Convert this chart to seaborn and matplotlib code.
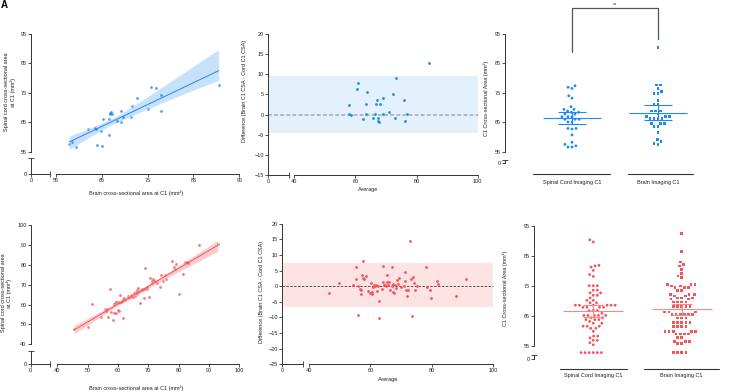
import matplotlib.pyplot as plt
import numpy as np
import seaborn as sns
from matplotlib.collections import PathCollection

W, H = 752, 392

BLUE = "#2088f2"
BLUE_LOA = "#e3f1fd"
RED = "#f5545b"
RED_LOA = "#fde3e3"
RED_MEAN = "#f58a8e"
AXIS = "#333333"

GROUPS = ["Spinal Cord Imaging C1", "Brain Imaging C1"]

# top row: scatter brain vs cord
BRAIN_TOP = [57.9, 58.4, 59.4, 61.9, 63.5, 63.7, 64.8, 65.3, 66.5, 66.5, 64.0, 65.1, 66.8, 67.0,
             67.2, 66.8, 68.3, 69.1, 69.2, 69.6, 71.3, 71.5, 72.7, 75.0, 75.7, 76.9, 78.0, 78.0, 90.5]
CORD_TOP = [57.6, 58.2, 56.7, 62.8, 63.0, 62.7, 62.0, 66.1, 66.1, 60.8, 57.3, 56.8, 68.1, 68.6,
            67.8, 67.8, 65.5, 65.2, 68.8, 66.8, 66.8, 70.5, 73.4, 69.5, 76.9, 76.6, 74.1, 68.7, 77.7]

# top row: Bland-Altman
AVG_TOP = [58.0, 57.8, 58.4, 60.6, 60.9, 62.5, 63.3, 63.5, 63.7, 65.6, 66.3, 66.8, 67.2, 67.3,
           67.5, 67.8, 68.1, 69.0, 69.1, 71.0, 72.3, 73.1, 73.3, 75.9, 76.2, 76.8, 84.1]
DIFF_TOP = [2.4, 0.1, -0.2, 6.4, 7.9, -1.1, 0.2, 2.6, 5.5, -0.9, 0.1, 2.7, 3.6, -1.6,
            -0.8, -1.8, 2.6, 0.2, 4.1, 0.7, 5.2, -0.9, 9.0, 3.6, -1.5, 0.1, 12.7]
LOA_TOP = (-4.6, 9.5)

# top row: column scatter
CORD_COL_TOP = [77.4, 76.9, 76.5, 74.0, 73.2, 70.3, 69.4, 68.4, 68.8, 69.4, 67.8, 67.8, 68.4, 66.9,
                66.9, 66.9, 66.0, 66.0, 66.0, 65.1, 65.1, 62.9, 62.9, 62.7, 60.7, 58.2, 57.5, 56.6,
                56.6, 57.0]
BRAIN_COL_TOP = [90.4, 77.7, 77.7, 76.5, 74.7, 74.7, 75.4, 72.5, 71.1, 71.1, 68.8, 68.8, 68.8, 67.8,
                 66.9, 66.9, 66.2, 66.2, 66.2, 66.2, 66.9, 64.6, 64.6, 64.6, 63.5, 63.5, 61.6, 59.2,
                 58.4, 57.5, 57.8]

# bottom row: scatter brain vs cord
BRAIN_BOT = [45.5, 50.1, 51.4, 54.4, 55.8, 55.9, 56.3, 56.6, 57.4, 57.7, 58.5, 58.8, 59.0, 59.3,
             59.7, 58.8, 59.2, 59.9, 60.2, 60.4, 60.6, 61.0, 61.3, 61.7, 61.8, 62.1, 62.4, 63.2,
             63.6, 64.3, 64.6, 65.0, 65.3, 65.6, 65.9, 66.3, 66.4, 66.6, 66.9, 67.4, 67.7, 67.9,
             68.1, 68.5, 68.9, 69.0, 69.6, 69.7, 70.2, 70.6, 71.1, 71.3, 71.6, 71.9, 72.2, 72.8,
             73.7, 74.3, 75.0, 75.4, 75.8, 77.8, 78.5, 78.8, 79.1, 80.2, 81.6, 82.2, 82.8, 83.1,
             86.6, 92.9]
CORD_BOT = [47.7, 48.9, 60.3, 53.9, 57.9, 56.9, 57.6, 53.9, 67.7, 56.1, 52.2, 60.1, 60.9, 61.3,
            61.5, 55.6, 55.6, 57.3, 61.5, 56.8, 65.0, 61.5, 62.0, 53.2, 63.0, 63.3, 62.3, 64.3,
            63.3, 64.8, 64.0, 63.6, 66.0, 64.3, 66.3, 67.3, 65.3, 68.5, 66.3, 60.8, 67.3, 68.0,
            67.3, 63.5, 78.2, 67.8, 68.7, 68.0, 63.6, 73.5, 72.0, 70.7, 72.7, 71.7, 71.9, 71.0,
            69.0, 75.0, 71.7, 74.9, 72.7, 82.1, 78.9, 77.7, 80.4, 65.3, 75.4, 81.4, 81.2, 81.1,
            89.8, 90.5]

# bottom row: Bland-Altman
AVG_BOT = [46.6, 49.7, 54.2, 55.3, 55.4, 55.9, 56.1, 56.5, 56.9, 57.0, 57.4, 57.5, 57.6, 57.8,
           58.7, 59.3, 59.8, 60.1, 60.4, 60.6, 60.9, 61.2, 61.5, 61.8, 62.1, 62.5, 62.7, 62.8,
           63.8, 64.0, 64.2, 64.5, 64.8, 65.1, 65.4, 65.5, 65.7, 65.9, 66.4, 66.9, 66.9, 67.2,
           67.4, 67.7, 67.9, 68.2, 68.5, 69.0, 69.3, 69.8, 70.9, 71.1, 71.2, 71.5, 72.0, 72.3,
           72.8, 73.1, 73.4, 73.8, 74.1, 74.4, 75.0, 78.1, 78.5, 79.4, 79.8, 81.8, 81.9, 87.8,
           91.2]
DIFF_BOT = [-2.1, 1.0, 0.3, 6.0, 2.3, -9.1, 0.2, -1.0, -2.5, -1.3, 3.6, 2.5, 8.0, 2.3,
            3.3, -1.4, -2.1, 0.9, -2.6, -1.9, -0.4, 0.4, 0.2, 0.5, -1.6, 0.1, -10.1, -4.7,
            -1.0, 6.5, 1.3, 0.5, 0.4, 0.1, 1.4, 3.6, 0.5, 1.2, -1.2, 6.3, 0.1, -1.9,
            0.6, -2.2, 0.4, -0.5, 1.9, 0.6, 2.7, -0.1, 0.1, 1.6, 4.7, -1.1, -3.0, -1.1,
            14.6, 2.3, -9.4, 3.1, 1.0, -1.1, 0.0, 6.0, -0.3, -1.3, -3.9, 1.7, 0.6, -3.2,
            2.3]
LOA_BOT = (-6.6, 7.5)

# bottom row: column scatter
CORD_COL_BOT = [90.4, 89.7, 81.9, 81.7, 81.3, 80.2, 78.8, 78.2, 75.1, 75.1, 75.1, 73.6, 73.6, 72.7,
                72.7, 71.9, 71.9, 71.0, 70.2, 70.2, 69.4, 69.4, 68.6, 68.6, 68.6, 68.6, 68.6, 68.6,
                67.9, 67.9, 67.9, 67.9, 66.8, 66.8, 66.8, 65.9, 65.2, 65.2, 65.2, 65.2, 65.2, 64.4,
                64.4, 63.8, 63.8, 63.8, 63.2, 62.6, 62.6, 61.6, 61.6, 61.6, 60.9, 60.9, 59.9, 58.3,
                58.3, 57.7, 56.9, 56.9, 56.1, 55.4, 52.8, 52.8, 52.8, 52.8, 52.8, 52.8]
BRAIN_COL_BOT = [92.6, 86.4, 83.0, 82.1, 81.7, 80.6, 79.2, 78.3, 77.9, 75.6, 75.6, 75.6, 75.0, 75.0,
                 74.6, 74.6, 74.6, 73.6, 73.6, 72.1, 72.1, 72.1, 71.7, 71.7, 71.0, 71.0, 71.0, 70.7,
                 70.7, 69.7, 69.7, 69.7, 69.7, 68.1, 68.1, 68.1, 68.1, 68.1, 66.3, 66.3, 66.3, 65.5,
                 65.5, 65.5, 65.5, 65.5, 65.5, 64.3, 64.3, 64.3, 62.8, 62.8, 62.8, 62.8, 62.8, 61.4,
                 61.4, 61.4, 61.4, 59.9, 59.9, 59.9, 59.9, 59.9, 59.0, 59.0, 59.0, 59.0, 57.8, 57.8,
                 56.6, 56.6, 56.6, 55.9, 55.9, 52.8, 52.8, 52.8, 52.8]


def px_rect(x0, x1, y0, y1):
    return [x0 / W, 1 - y1 / H, (x1 - x0) / W, (y1 - y0) / H]


def pt(px):
    return px * 72 / 100


def base_style(ax):
    ax.patch.set_visible(False)
    ax.tick_params(which="both", length=2, width=0.6, color=AXIS, labelsize=4,
                   pad=1, labelcolor="#222222")
    for side in ("top", "right"):
        ax.spines[side].set_visible(False)
    for side in ("left", "bottom"):
        ax.spines[side].set_linewidth(0.7)
        ax.spines[side].set_color(AXIS)


def setup_main(ax, xlim, ylim, xticks, yticks, left_px, bottom_px, xb, yb):
    ax.set_xlim(xlim)
    ax.set_ylim(ylim)
    ax.set_xticks(xticks)
    ax.set_yticks(yticks)
    ax.set_xlabel("")
    ax.set_ylabel("")
    base_style(ax)
    ax.spines["left"].set_position(("outward", pt(left_px)))
    ax.spines["bottom"].set_position(("outward", pt(bottom_px)))
    ax.spines["left"].set_bounds(*yb)
    if xb is not None:
        ax.spines["bottom"].set_bounds(*xb)


def add_stub(fig, rect, x_part, y_part):
    st = fig.add_axes(px_rect(*rect))
    st.set_xlim(0, 1)
    st.set_ylim(0, 1)
    base_style(st)
    st.spines["bottom"].set_visible(x_part)
    st.spines["left"].set_visible(y_part)
    if x_part:
        st.set_xticks([0], ["0"])
        st.set_xticks([1], minor=True)
    else:
        st.set_xticks([])
    if y_part:
        st.set_yticks([0], ["0"])
        st.set_yticks([1], minor=True)
    else:
        st.set_yticks([])
    st.tick_params(which="minor", direction="inout", length=5)
    return st


def soften_band(ax, alpha):
    for c in ax.collections:
        if not isinstance(c, PathCollection):
            c.set_alpha(alpha)


def scatter_panel(fig, rect, x, y, color, band_alpha, lims, ticks, left_px, bottom_px, stub):
    ax = fig.add_axes(px_rect(*rect))
    sns.regplot(x=x, y=y, ax=ax, color=color, ci=95, seed=3,
                scatter_kws={"s": 4, "linewidths": 0}, line_kws={"lw": 0.7})
    soften_band(ax, band_alpha)
    setup_main(ax, lims, lims, ticks, ticks, left_px, bottom_px, lims, lims)
    add_stub(fig, stub, True, True)
    return ax


def ba_panel(fig, rect, avg, diff, color, band_color, loa, ylim, yticks, left_px, stub,
             zero_color, zero_lw):
    ax = fig.add_axes(px_rect(*rect))
    frac = left_px / (rect[1] - rect[0])
    ax.axhspan(loa[0], loa[1], xmin=-frac, xmax=1, color=band_color, lw=0, zorder=0,
               clip_on=False)
    ax.axhline(0, xmin=-frac, xmax=1, color=zero_color, lw=zero_lw, ls=(0, (2.5, 1.5)),
               clip_on=False, zorder=1)
    sns.scatterplot(x=avg, y=diff, ax=ax, color=color, s=4, linewidth=0, zorder=3)
    setup_main(ax, (40, 100), ylim, [40, 60, 80, 100], yticks, left_px, 0, (40, 100), ylim)
    add_stub(fig, stub, True, False)
    return ax


def column_panel(fig, rect, g1, g2, color, mean_color, ylim, left_px, line_px, segs,
                 label_pad, cap, stub):
    ax = fig.add_axes(px_rect(*rect))
    sns.swarmplot(x=[GROUPS[0]] * len(g1), y=g1, order=GROUPS, color=color, marker="o",
                  size=2.0, linewidth=0.8, edgecolor="none", ax=ax)
    sns.swarmplot(x=[GROUPS[1]] * len(g2), y=g2, order=GROUPS, color=color, marker="s",
                  size=1.9, linewidth=0.9, edgecolor="none", ax=ax)
    for i, vals in enumerate([g1, g2]):
        v = np.asarray(vals)
        m = v.mean()
        ci = 1.96 * v.std(ddof=1) / np.sqrt(len(v))
        ax.hlines(m, i - 0.34, i + 0.34, color=mean_color, lw=0.8, zorder=5)
        ax.errorbar(i, m, yerr=ci, color=mean_color, lw=0.8, capsize=cap, capthick=0.8,
                    zorder=5)
    setup_main(ax, (-0.5, 1.5), ylim, [0, 1], range(55, 96, 10), left_px, line_px, None,
               (55, 95))
    ax.spines["bottom"].set_visible(False)
    ax.set_xticks([0, 1], GROUPS)
    ax.tick_params(axis="x", length=0, pad=label_pad)
    yfrac = -line_px / (rect[3] - rect[2])
    for a, b in segs:
        ax.plot([a, b], [yfrac, yfrac], color=AXIS, lw=0.8, clip_on=False,
                transform=ax.get_xaxis_transform())
    add_stub(fig, stub, False, True)
    return ax


sns.set_style("ticks")
plt.rcParams["font.family"] = ["Liberation Sans", "DejaVu Sans"]

fig = plt.figure(figsize=(W / 100, H / 100), dpi=100)

# ---- top row ----
scatter_panel(fig, (56, 239.3, 34, 151.7), BRAIN_TOP, CORD_TOP, BLUE, 0.25, (55, 95),
              range(55, 96, 10), 25, 22.3, (31, 50, 158, 174))
ba_panel(fig, (294.3, 477.7, 34, 175), AVG_TOP, DIFF_TOP, BLUE, BLUE_LOA, LOA_TOP, (-15, 20),
         range(-15, 21, 5), 26, (268.3, 289, 174, 175), "#a8a8a8", 1.1)
ax3 = column_panel(fig, (529, 701, 34, 151.7), CORD_COL_TOP, BRAIN_COL_TOP, BLUE, BLUE,
                   (55, 95), 24, 22.3, [(-0.457, 0.442), (0.655, 1.41)], 4.0, 10,
                   (505, 506, 159.5, 163))
ax3.plot([0, 0, 1, 1], [88.9, 104.0, 104.0, 93.3], color="#555555", lw=0.9, clip_on=False)
ax3.text(0.5, 104.1, "**", ha="center", va="bottom", fontsize=4, color="#333333",
         clip_on=False)

# ---- bottom row ----
scatter_panel(fig, (57.3, 239.3, 225, 344.3), BRAIN_BOT, CORD_BOT, RED, 0.3, (40, 100),
              range(40, 101, 10), 26.6, 20, (30.7, 50, 351, 364.3))
ba_panel(fig, (309, 493.3, 223.7, 364.3), AVG_BOT, DIFF_BOT, RED, RED_LOA, LOA_BOT, (-25, 20),
         range(-25, 21, 5), 26.7, (282.3, 303.3, 363.3, 364.3), "#555555", 0.7)
column_panel(fig, (549, 726, 226, 355), CORD_COL_BOT, BRAIN_COL_BOT, RED, RED_MEAN, (52, 95),
             14.7, 13.7, [(-0.376, 0.378), (0.575, 1.42)], 3.0, 7,
             (534.3, 535.3, 355.3, 358.7))


# ---- axis titles ----
def ftext(x, y, s, rot=0, **kw):
    fig.text(x / W, 1 - y / H, s, rotation=rot, ha="center", va="center", fontsize=4,
             color="#222222", multialignment="center", **kw)


ftext(136, 193, "Brain cross-sectional area at C1 (mm²)")
ftext(10, 92, "Spinal cord cross-sectional area\nat C1 (mm²)", rot=90)
ftext(368, 190, "Average")
ftext(245, 91, "Difference (Brain C1 CSA - Cord C1 CSA)", rot=90)
ftext(486, 98, "C1 Cross-sectional Area (mm²)", rot=90)

ftext(136, 388, "Brain cross-sectional area at C1 (mm²)")
ftext(6.5, 293, "Spinal cord cross-sectional area\nat C1 (mm²)", rot=90)
ftext(388, 379, "Average")
ftext(262, 292, "Difference (Brain C1 CSA - Cord C1 CSA)", rot=90)
ftext(505, 288, "C1 Cross-sectional Area (mm²)", rot=90)

fig.text(1 / W, 1 - 0 / H, "A", ha="left", va="top", fontsize=7, fontweight="bold",
         color="black")

fig.savefig("out.png", dpi=100)
